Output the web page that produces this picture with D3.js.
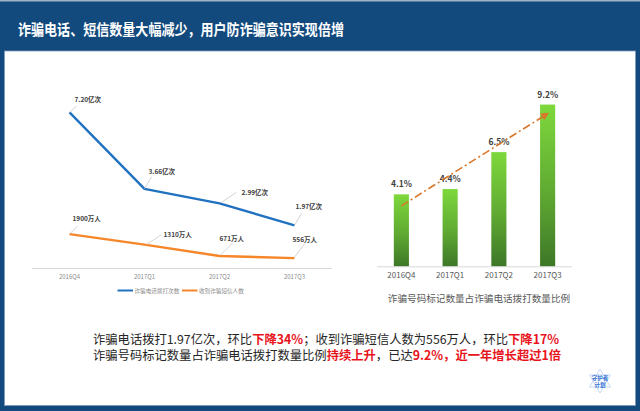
<!DOCTYPE html>
<html><head><meta charset="utf-8">
<script src="https://cdn.jsdelivr.net/npm/d3@7/dist/d3.min.js"></script>
<style>
html,body{margin:0;padding:0;background:#fff;}
svg{display:block;}
</style></head>
<body>
<svg id="c" width="640" height="411"></svg>
<script>
// ---- data ----
const categories = ["2016Q4", "2017Q1", "2017Q2", "2017Q3"];
const callsValues = [7.20, 3.66, 2.99, 1.97];          // 亿次
const callsLabels = ["7.20亿次", "3.66亿次", "2.99亿次", "1.97亿次"];
const smsValues = [1900, 1310, 671, 556];               // 万人
const smsLabels = ["1900万人", "1310万人", "671万人", "556万人"];
const ratioValues = [4.1, 4.4, 6.5, 9.2];               // %
const ratioLabels = ["4.1%", "4.4%", "6.5%", "9.2%"];
const seriesNames = ["诈骗电话拨打次数", "收到诈骗短信人数"];
const title = "诈骗电话、短信数量大幅减少，用户防诈骗意识实现倍增";
const ratioCaption = "诈骗号码标记数量占诈骗电话拨打数量比例";

// ---- layout (label leader offsets: [leaderStartDx, leaderStartDy, leaderEndDx, leaderEndDy, textDx, textDy]) ----
const callsLabelLayout = [[0,0,7,-6,5,-10.5],[0,0,7,-12,4,-14.5],[2,-1,17,-11,22,-8.5],[0,0,7,-12,1,-16]];
const smsLabelLayout = [[0,0,8,-8,3,-13.5],[2,0,17,-10,19,-8],[1,-1,13,-13,0,-15.5],[0,-1,10,-14,-2,-16.5]];

const FONT = "'Noto Sans CJK SC','Noto Sans',sans-serif";
const svg = d3.select("#c").style("font-family", FONT);

// ---- frame ----
svg.append("rect").attr("x",0).attr("y",0).attr("width",640).attr("height",411).attr("fill","#134a7d");
svg.append("rect").attr("x",0).attr("y",0).attr("width",640).attr("height",1.5).attr("fill","#9fb3c8");
svg.append("rect").attr("x",4.5).attr("y",51).attr("width",631).attr("height",354.5)
  .attr("fill","#ffffff").attr("stroke","#7f9bb8").attr("stroke-width",0.8);
svg.append("text").attr("transform","translate(18,35) scale(0.87,1)").attr("fill","#ffffff")
  .attr("font-size",15).attr("font-weight","bold").text(title);

// ---- left line chart ----
const xL = d3.scaleBand().domain(categories).range([32, 332]);
const cx = d => xL(d) + xL.bandwidth()/2;
const yCalls = d3.scaleLinear().domain([0, 8]).range([268, 95]);
const ySms = d3.scaleLinear().domain([0, 2000]).range([268, 232.3]);

const gL = svg.append("g");
gL.append("line").attr("x1",32).attr("x2",332).attr("y1",268.5).attr("y2",268.5)
  .attr("stroke","#d9d9d9").attr("stroke-width",1);
const axL = gL.append("g").attr("transform","translate(0,268.5)")
  .call(d3.axisBottom(xL).tickSize(0).tickPadding(6));
axL.select(".domain").remove();
axL.selectAll("text").attr("fill","#8c8c8c").attr("font-size",6).attr("font-family",FONT);

function drawLine(values, y, color, labels, layout) {
  const pts = values.map((v,i)=>[cx(categories[i]), y(v)]);
  gL.append("path").attr("d", d3.line()(pts)).attr("fill","none")
    .attr("stroke",color).attr("stroke-width",2.4).attr("stroke-linejoin","round");
  pts.forEach((p,i)=>{
    const L = layout[i];
    gL.append("line").attr("x1",p[0]+L[0]).attr("y1",p[1]+L[1]).attr("x2",p[0]+L[2]).attr("y2",p[1]+L[3])
      .attr("stroke","#c8c8c8").attr("stroke-width",0.8);
    gL.append("text").attr("x",p[0]+L[4]).attr("y",p[1]+L[5]).attr("fill","#404040")
      .attr("font-size",6.5).attr("font-weight","bold").text(labels[i]);
  });
}
drawLine(smsValues, ySms, "#f5862a", smsLabels, smsLabelLayout);
drawLine(callsValues, yCalls, "#2171c1", callsLabels, callsLabelLayout);

// legend
const legColors = ["#2171c1", "#f5862a"];
const legX = [117.5, 182];
seriesNames.forEach((n,i)=>{
  gL.append("line").attr("x1",legX[i]).attr("x2",legX[i]+15.5).attr("y1",290.5).attr("y2",290.5)
    .attr("stroke",legColors[i]).attr("stroke-width",2);
  gL.append("text").attr("x",legX[i]+17).attr("y",292.5).attr("fill","#8c8c8c")
    .attr("font-size",5.6).text(n);
});

// ---- right bar chart ----
const xR = d3.scaleBand().domain(categories).range([377, 572]).paddingInner(0.69).paddingOuter(0.345);
const yR = d3.scaleLinear().domain([0, 10]).range([266.5, 90.5]);
const defs = svg.append("defs");
const grad = defs.append("linearGradient").attr("id","gbar").attr("x1",0).attr("y1",0).attr("x2",0).attr("y2",1);
grad.append("stop").attr("offset","0%").attr("stop-color","#7ed83c");
grad.append("stop").attr("offset","55%").attr("stop-color","#5fa932");
grad.append("stop").attr("offset","100%").attr("stop-color","#3d7727");

const gR = svg.append("g");
gR.selectAll("rect.bar").data(ratioValues).join("rect").attr("class","bar")
  .attr("x",(d,i)=>xR(categories[i])).attr("width",xR.bandwidth())
  .attr("y",d=>yR(d)).attr("height",d=>yR(0)-yR(d)).attr("fill","url(#gbar)");
gR.append("line").attr("x1",377).attr("x2",572).attr("y1",266.8).attr("y2",266.8)
  .attr("stroke","#d9d9d9").attr("stroke-width",1);
const axR = gR.append("g").attr("transform","translate(0,266.8)")
  .call(d3.axisBottom(xR).tickSize(0).tickPadding(6));
axR.select(".domain").remove();
axR.selectAll("text").attr("fill","#595959").attr("font-size",8).attr("font-family",FONT);
gR.selectAll("text.val").data(ratioValues).join("text").attr("class","val")
  .attr("x",(d,i)=>xR(categories[i])+xR.bandwidth()/2).attr("y",d=>yR(d)-7)
  .attr("text-anchor","middle").attr("fill","#404040").attr("font-size",8.5).attr("font-weight","bold")
  .text((d,i)=>ratioLabels[i]);
gR.append("text").attr("x",479).attr("y",302).attr("text-anchor","middle")
  .attr("fill","#595959").attr("font-size",9.6).text(ratioCaption);

// trend arrow
defs.append("marker").attr("id","arr").attr("viewBox","0 0 10 10").attr("refX",8).attr("refY",5)
  .attr("markerWidth",5).attr("markerHeight",5).attr("orient","auto")
  .append("path").attr("d","M0,0L10,5L0,10Z").attr("fill","#d9772b");
const a0 = [xR(categories[0])+xR.bandwidth()/2, yR(ratioValues[0])+11.5];
const a1 = [xR(categories[3])+xR.bandwidth()/2, yR(ratioValues[3])+9];
gR.append("line").attr("x1",a0[0]).attr("y1",a0[1]).attr("x2",a1[0]).attr("y2",a1[1])
  .attr("stroke","#d9772b").attr("stroke-width",1.6).attr("stroke-dasharray","8,3,2,3")
  .attr("marker-end","url(#arr)");

// ---- bottom text ----
const lines = [
  [["诈骗电话拨打1.97亿次，环比",0],["下降34%",1],["；收到诈骗短信人数为556万人，环比",0],["下降17%",1]],
  [["诈骗号码标记数量占诈骗电话拨打数量比例",0],["持续上升",1],["，已达",0],["9.2%，近一年增长超过1倍",1]]
];
lines.forEach((segs,li)=>{
  const t = svg.append("text").attr("x",93).attr("y",[343.5,360][li]).attr("font-size",12.3);
  segs.forEach(s=>{
    t.append("tspan").text(s[0]).attr("fill", s[1] ? "#e8141b" : "#262626")
      .attr("font-weight", s[1] ? "bold" : "normal");
  });
});

// ---- logo ----
const lg = svg.append("g").attr("transform","translate(600,381)");
const star = d3.range(6).map(k=>{const a=Math.PI/3*k - Math.PI/2; return [12*Math.cos(a),12*Math.sin(a)];});
lg.append("path").attr("d","M"+[star[0],star[2],star[4]].join("L")+"Z").attr("fill","none").attr("stroke","#b9cdf0").attr("stroke-width",0.8);
lg.append("path").attr("d","M"+[star[1],star[3],star[5]].join("L")+"Z").attr("fill","none").attr("stroke","#b9cdf0").attr("stroke-width",0.8);
lg.append("text").attr("y",-1.5).attr("text-anchor","middle").attr("fill","#2f6fd3").attr("font-size",5.5).attr("font-weight","bold").text("守护者");
lg.append("text").attr("y",5.5).attr("text-anchor","middle").attr("fill","#2f6fd3").attr("font-size",5.5).attr("font-weight","bold").text("计划");
</script>
</body></html>
